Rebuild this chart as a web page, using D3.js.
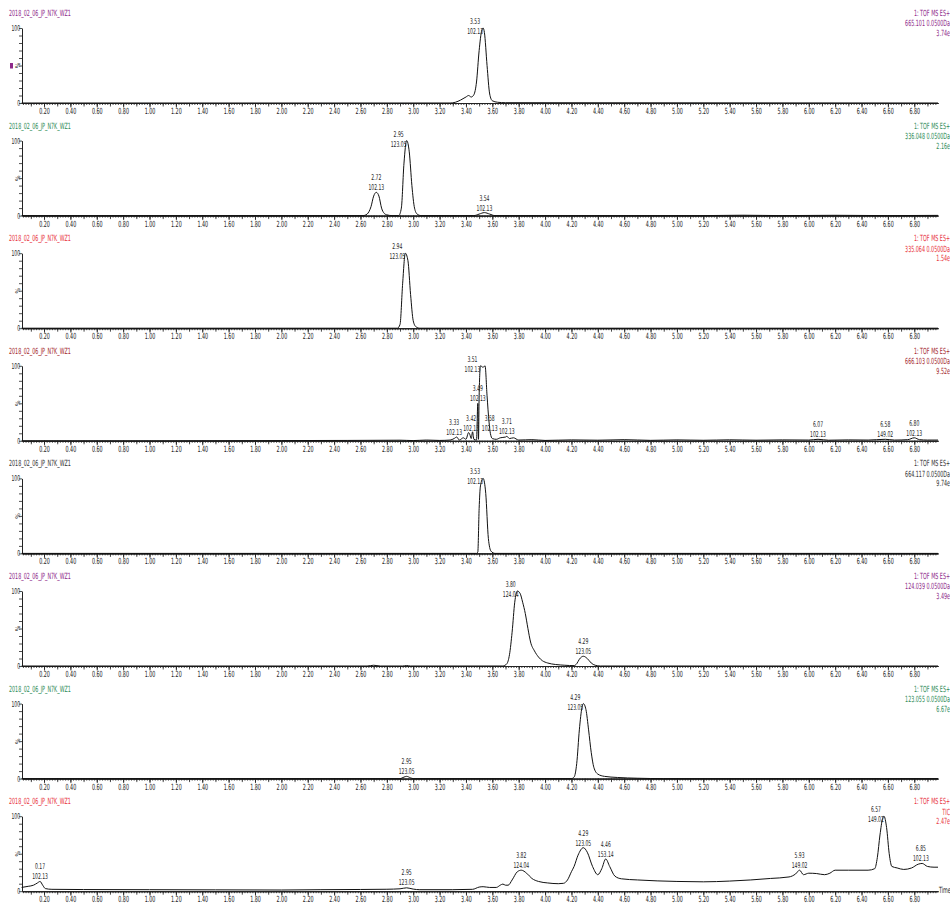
<!DOCTYPE html>
<html>
<head>
<meta charset="utf-8">
<script src="https://cdn.jsdelivr.net/npm/d3@7"></script>
<style>
body { margin: 0; background: #fff; }
text { font-family: "Liberation Sans Narrow", "Arial Narrow", "DejaVu Sans Condensed", sans-serif; }
</style>
</head>
<body>
<svg id="chart" width="950" height="906"></svg>
<script>
// run info, one entry per trace (top to bottom)
var sampleName = "2018_02_06_JP_N7K_WZ1";
var traceMass = ["665.101 0.0500Da", "336.048 0.0500Da", "335.064 0.0500Da", "666.103 0.0500Da",
                 "664.117 0.0500Da", "124.039 0.0500Da", "123.055 0.0500Da", "TIC"];
var traceScale = ["3.74e", "2.16e", "1.54e", "9.52e", "9.74e", "3.49e", "6.67e", "2.47e"];
var traceColor = ["#8e2a8a", "#2e8b57", "#e8323c", "#a3272c", "#333333", "#8e2a8a", "#2e8b57", "#e8323c"];

// chromatograms: [time (min), % of max]
var trace665 = [[0.03,0],[3.28,0],[3.32,1],[3.36,4],[3.40,8],[3.42,10],[3.44,8],[3.46,11],[3.48,28],
  [3.50,70],[3.52,97],[3.53,100],[3.54,94],[3.56,50],[3.58,12],[3.60,3],[3.64,1],[3.70,0.4],[6.98,0]];
var trace336 = [[0.03,0],[2.62,0],[2.65,2],[2.68,12],[2.70,26],[2.72,31],[2.74,26],[2.76,10],[2.78,3],
  [2.80,1],[2.84,0],[2.89,0],[2.91,10],[2.93,70],[2.95,100],[2.97,85],[2.99,40],[3.01,10],[3.03,2],
  [3.06,0],[3.46,0],[3.50,2],[3.54,4],[3.58,2],[3.62,0],[5.2,0],[5.5,0.5],[5.8,0],[6.2,0.4],[6.6,0],[6.98,0.3]];
var trace335 = [[0.03,0],[2.88,0],[2.90,5],[2.92,60],[2.94,100],[2.96,90],[2.98,45],[3.00,10],[3.02,2],
  [3.05,0],[6.98,0]];
var trace666 = [[0.03,0],[1.0,0],[2.0,0.3],[2.5,0.5],[2.9,0.8],[3.0,0.3],[3.1,1],[3.2,0.5],[3.28,1],
  [3.31,3],[3.33,5],[3.35,1],[3.38,4],[3.40,2],[3.42,11],[3.43,8],[3.44,3],[3.45,12],[3.46,2],[3.48,1],
  [3.49,50],[3.495,2],[3.50,60],[3.51,100],[3.53,98],[3.545,100],[3.56,60],[3.575,25],[3.585,10],
  [3.60,3],[3.63,2],[3.66,4],[3.70,5],[3.71,6],[3.73,3],[3.76,4],[3.80,1],[3.9,1.5],[4.0,0.5],[4.2,1.2],
  [4.4,0.8],[4.6,1.5],[4.8,0.6],[5.0,1.2],[5.2,0.7],[5.4,1.3],[5.6,0.8],[5.8,1.2],[6.0,1],[6.07,2],
  [6.15,0.8],[6.3,1.2],[6.45,1],[6.58,2],[6.65,1],[6.75,1.5],[6.80,4],[6.84,1.5],[6.9,1],[6.98,1]];
var trace664 = [[0.03,0],[3.48,0],[3.49,2],[3.50,60],[3.51,90],[3.53,100],[3.55,80],[3.57,20],[3.59,3],
  [3.62,0],[6.98,0]];
var trace124 = [[0.03,0],[2.65,0],[2.70,1],[2.75,0],[2.92,0],[2.95,0.6],[2.98,0],[3.68,0],[3.71,3],
  [3.73,15],[3.75,45],[3.77,85],[3.79,100],[3.81,97],[3.83,85],[3.85,70],[3.87,50],[3.89,32],[3.92,20],
  [3.95,12],[3.98,7],[4.02,4],[4.08,2],[4.15,1],[4.22,0.5],[4.24,3],[4.26,9],[4.29,13],[4.32,10],
  [4.35,4],[4.38,1],[4.42,0],[6.98,0]];
var trace123 = [[0.03,0],[2.90,0],[2.93,2],[2.95,3],[2.98,1],[3.0,0],[4.20,0],[4.22,2],[4.24,20],
  [4.26,65],[4.28,95],[4.29,100],[4.31,92],[4.33,65],[4.35,35],[4.37,15],[4.40,6],[4.45,3],[4.55,1.5],
  [4.70,0.5],[4.9,0],[6.98,0]];
var traceTic = [[0.03,5],[0.08,6.5],[0.12,8],[0.15,11],[0.17,13],[0.19,8],[0.21,3.5],[0.26,2.5],[0.5,2.2],
  [1.0,2],[1.5,1.8],[2.0,1.6],[2.3,2],[2.6,2.3],[2.8,2.6],[2.9,3.2],[2.95,4.5],[3.0,2.8],[3.05,2],[3.3,2],
  [3.45,2.5],[3.50,5.5],[3.53,6],[3.58,5],[3.63,5],[3.66,8],[3.68,9.5],[3.70,8],[3.72,8],[3.75,15],
  [3.79,26],[3.82,28],[3.86,24],[3.90,17],[3.95,13],[4.02,11],[4.10,10],[4.14,10.5],[4.17,15],[4.20,26],
  [4.22,33],[4.25,48],[4.29,58],[4.32,52],[4.36,33],[4.40,22],[4.43,30],[4.46,43],[4.49,33],[4.53,20],
  [4.58,16.5],[4.7,15],[5.0,13],[5.2,12.5],[5.4,13.5],[5.56,15],[5.71,17],[5.85,19],[5.9,23],[5.93,28],
  [5.96,22],[6.0,24],[6.06,23.5],[6.12,22],[6.16,24],[6.20,28],[6.3,28],[6.45,28],[6.50,30],[6.52,45],
  [6.54,75],[6.56,97],[6.57,100],[6.59,85],[6.61,50],[6.63,33],[6.67,31],[6.72,29],[6.78,31],[6.83,36],
  [6.86,37],[6.90,33],[6.95,32],[6.98,32]];
var traces = [trace665, trace336, trace335, trace666, trace664, trace124, trace123, traceTic];

// peak labels: [time, %, retention time text, mass text]
var peaks665 = [[3.53,100,"3.53","102.13"]];
var peaks336 = [[2.72,31,"2.72","102.13"],[2.95,100,"2.95","123.05"],[3.54,4,"3.54","102.13"]];
var peaks335 = [[2.94,100,"2.94","123.05"]];
var peaks666 = [[3.33,5,"3.33","102.13"],[3.42,11,"3.42","102.13"],[3.49,50,"3.49","102.13"],
  [3.51,100,"3.51","102.13"],[3.58,10,"3.58","102.13"],[3.71,6,"3.71","102.13"],
  [6.07,2,"6.07","102.13"],[6.58,2,"6.58","149.02"],[6.80,4,"6.80","102.13"]];
var peaks664 = [[3.53,100,"3.53","102.13"]];
var peaks124 = [[3.80,100,"3.80","124.04"],[4.29,13,"4.29","123.05"]];
var peaks123 = [[2.95,3,"2.95","123.05"],[4.29,100,"4.29","123.05"]];
var peaksTic = [[0.17,13,"0.17","102.13"],[2.95,5,"2.95","123.05"],[3.82,28,"3.82","124.04"],
  [4.29,58,"4.29","123.05"],[4.46,43,"4.46","153.14"],[5.93,28,"5.93","149.02"],
  [6.57,100,"6.57","149.02"],[6.85,37,"6.85","102.13"]];
var peaks = [peaks665, peaks336, peaks335, peaks666, peaks664, peaks124, peaks123, peaksTic];

var svg = d3.select("#chart");
var panelStep = 112.6;
var plotH = 75;
var squeeze = 0.63;   // the instrument software uses a very narrow font

var x = d3.scaleLinear().domain([0.033, 6.98]).range([22, 938]);
var line = d3.line().curve(d3.curveMonotoneX);

function narrowText(parent, tx, ty, anchor, size, color) {
    return parent.append("g").attr("transform", "translate(" + tx + "," + ty + ") scale(" + squeeze + ",1)")
        .append("text").attr("text-anchor", anchor).attr("font-size", size).attr("fill", color);
}

traces.forEach(function (data, i) {
    var base = 103 + i * panelStep;
    var g = svg.append("g");
    var y = d3.scaleLinear().domain([0, 100]).range([base, base - plotH]);

    // header texts
    narrowText(g, 9, base - 87, "start", 8.5, traceColor[i]).text(sampleName);
    var right = narrowText(g, 950, base - 87, "end", 8.5, traceColor[i]);
    right.append("tspan").attr("x", 0).attr("y", 0).text("1: TOF MS ES+");
    right.append("tspan").attr("x", 0).attr("y", 10.5).text(traceMass[i]);
    right.append("tspan").attr("x", 0).attr("y", 20).text(traceScale[i]);

    // x axis: minor, mid and labelled ticks
    var xMinor = d3.axisBottom(x).tickValues(d3.range(0.04, 6.98, 0.02)).tickSize(2).tickSizeOuter(0).tickFormat("");
    var xMid = d3.axisBottom(x).tickValues(d3.range(0.1, 6.98, 0.1)).tickSize(3.5).tickSizeOuter(0).tickFormat("");
    var xMajor = d3.axisBottom(x).tickValues(d3.range(0.2, 6.9, 0.2)).tickSize(4.5).tickSizeOuter(0)
        .tickFormat(d3.format(".2f"));
    [xMinor, xMid, xMajor].forEach(function (ax) {
        var a = g.append("g").attr("transform", "translate(0," + base + ")").call(ax);
        a.selectAll("line").attr("stroke", "#222").attr("stroke-width", 0.8);
        a.select(".domain").attr("stroke", "#222");
        a.selectAll("text").attr("font-size", 8.5).attr("fill", "#222").attr("y", 5).attr("dy", "0.7em")
            .attr("transform", "scale(" + squeeze + ",1)");
    });

    // y axis
    var yAx = g.append("g").attr("transform", "translate(22,0)")
        .call(d3.axisLeft(y).tickValues(d3.range(0, 101, 10)).tickSize(3).tickSizeOuter(0)
            .tickFormat(function (d) { return d === 0 || d === 100 ? d : ""; }));
    yAx.selectAll("line").attr("stroke", "#222").attr("stroke-width", 0.8);
    yAx.select(".domain").attr("stroke", "#222");
    yAx.selectAll("text").attr("font-size", 8).attr("fill", "#222").attr("x", -3)
        .attr("transform", "scale(" + squeeze + ",1)");
    g.append("text").attr("transform", "translate(19.5," + (base - plotH / 2) + ") rotate(-90)")
        .attr("text-anchor", "middle").attr("font-size", 6.5).attr("fill", "#222").text("%");

    // trace
    g.append("path").datum(data)
        .attr("d", line.x(function (d) { return x(d[0]); }).y(function (d) { return y(d[1]); }))
        .attr("fill", "none").attr("stroke", "#111").attr("stroke-width", 1);

    // peak labels, pushed apart sideways where they collide
    var labels = peaks[i].map(function (p) {
        var top = p[1] >= 95;
        return { p: p, ax: x(p[0]), ay: y(p[1]), cx: x(p[0]) + (top ? -8 : 0), by: y(p[1]) + (top ? 6 : -2), w: 16 };
    });
    for (var it = 0; it < 30; it++) {
        for (var a = 0; a < labels.length; a++) {
            for (var b = 0; b < labels.length; b++) {
                var la = labels[a], lb = labels[b];
                if (a === b || la.cx > lb.cx || Math.abs(la.by - lb.by) > 18) continue;
                var over = (la.cx + la.w / 2 + 1) - (lb.cx - lb.w / 2);
                if (over > 0) { la.cx -= over / 2; lb.cx += over / 2; }
            }
        }
    }
    labels.forEach(function (l) {
        var t = narrowText(g, l.cx, l.by, "middle", 8, "#222");
        t.append("tspan").attr("x", 0).attr("y", -10).text(l.p[2]);
        t.append("tspan").attr("x", 0).attr("y", 0).text(l.p[3]);
        if (Math.abs(l.cx - l.ax) > 6 && l.p[1] < 95) {
            g.append("line").attr("x1", l.cx).attr("y1", l.by + 1).attr("x2", l.ax).attr("y2", l.ay)
                .attr("stroke", "#222").attr("stroke-width", 0.6);
        }
    });
});

// marker next to first trace
svg.append("rect").attr("x", 10).attr("y", 63).attr("width", 3).attr("height", 5.5).attr("fill", "#8e2a8a");

// time label at the end of the last axis
narrowText(svg, 939, 893, "start", 8.5, "#222").text("Time");
</script>
</body>
</html>
